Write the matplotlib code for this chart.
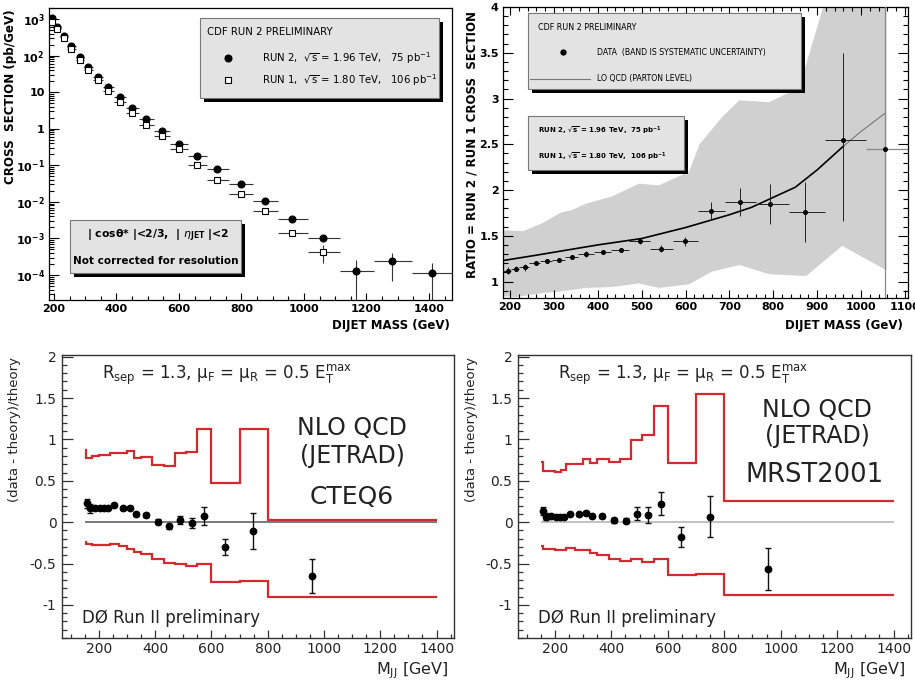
import numpy as np
import matplotlib
matplotlib.use('Agg')
import matplotlib.pyplot as plt
from matplotlib.patches import Rectangle
from matplotlib.lines import Line2D
from matplotlib.ticker import MultipleLocator, LogLocator, NullFormatter

plt.rcParams['font.family'] = ['DejaVu Sans']
plt.rcParams['mathtext.fontset'] = 'dejavusans'

# ---------------- top-left: CDF dijet mass cross section ----------------
cdf_bin_edges = [180, 202, 221, 243, 269, 296, 325, 356, 391, 430, 472, 520, 572,
                 628, 690, 760, 836, 918, 1012, 1114, 1224, 1346, 1480]
run2_mass = [194, 210, 232, 255, 283, 310, 340, 373, 410, 451, 494, 546, 599, 657,
             723, 798, 875, 962, 1062, 1166, 1282, 1410]
run2_xsec = [1070, 600, 345, 180, 92, 49, 26, 14, 7.4, 3.7, 1.9, 0.87, 0.38, 0.18,
             0.08, 0.031, 0.0107, 0.0035, 0.00105, 1.3e-4, 2.4e-4, 1.1e-4]
run2_err_lo = [0, 0, 0, 0, 0, 0, 0, 0, 0, 0, 0, 0, 0, 0, 0, 0, 0, 0.0003, 0.00015,
               1.2e-4, 1.7e-4, 1.0e-4]
run2_err_hi = [0, 0, 0, 0, 0, 0, 0, 0, 0, 0, 0, 0, 0, 0, 0, 0, 0, 0.0003, 0.0002,
               1.3e-4, 1.7e-4, 1.0e-4]
run1_mass = [194, 210, 232, 255, 283, 310, 340, 373, 410, 451, 494, 546, 599, 657,
             723, 798, 875, 962, 1062]
run1_xsec = [850, 530, 300, 150, 76, 40, 21, 11, 5.4, 2.7, 1.27, 0.63, 0.28, 0.10,
             0.04, 0.0165, 0.0056, 0.0014, 4.3e-4]
run1_err_lo = [0, 0, 0, 0, 0, 0, 0, 0, 0, 0, 0, 0, 0, 0, 0, 0, 0.0006, 0.00025, 2.2e-4]
run1_err_hi = [0, 0, 0, 0, 0, 0, 0, 0, 0, 0, 0, 0, 0, 0, 0, 0, 0.0006, 0.00025, 2.5e-4]
tl_xticks = [200, 400, 600, 800, 1000, 1200, 1400]
tl_yticks = [1e-4, 1e-3, 1e-2, 1e-1, 1, 10, 1e2, 1e3]

# ---------------- top-right: ratio Run2/Run1 ----------------
ratio_mass = [195, 214, 234, 259, 284, 311, 341, 373, 411, 452, 496, 543, 598, 657,
              723, 793, 873, 959, 1055]
ratio_val = [1.12, 1.14, 1.155, 1.20, 1.22, 1.24, 1.265, 1.30, 1.32, 1.35, 1.44, 1.36,
             1.44, 1.77, 1.87, 1.85, 1.76, 2.55, 2.45]
ratio_err_lo = [0.04, 0.03, 0.04, 0.02, 0.02, 0.02, 0.02, 0.03, 0.02, 0.02, 0.03, 0.04,
                0.05, 0.10, 0.15, 0.22, 0.33, 0.89, 1.63]
ratio_err_hi = [0.04, 0.03, 0.04, 0.02, 0.02, 0.02, 0.02, 0.03, 0.02, 0.02, 0.03, 0.04,
                0.05, 0.10, 0.15, 0.22, 0.33, 0.95, 1.70]
band_up_x = [185, 230, 275, 314, 341, 373, 433, 494, 539, 608, 632, 684, 723, 791, 859, 920, 1058]
band_up_y = [1.56, 1.55, 1.64, 1.75, 1.78, 1.85, 1.93, 2.07, 2.05, 2.20, 2.50, 2.80, 2.98,
             2.96, 3.12, 4.10, 4.10]
band_lo_x = [185, 214, 275, 314, 373, 433, 494, 539, 608, 661, 723, 791, 875, 957, 1055, 1058]
band_lo_y = [0.84, 0.83, 0.875, 0.89, 0.93, 0.94, 0.98, 0.93, 0.97, 1.11, 1.18, 1.08,
             1.06, 1.39, 1.13, 1.13]
lo_qcd_x = [185, 250, 300, 400, 500, 600, 650, 700, 750, 800, 850, 900, 960, 1000, 1055]
lo_qcd_y = [1.23, 1.28, 1.32, 1.40, 1.47, 1.59, 1.66, 1.73, 1.81, 1.92, 2.03, 2.22, 2.48,
            2.64, 2.84]
tr_xticks = [200, 300, 400, 500, 600, 700, 800, 900, 1000, 1100]
tr_yticks = [1, 1.5, 2, 2.5, 3, 3.5, 4]

# ---------------- bottom: D0 (data - theory)/theory ----------------
d0_mass = [157, 168, 186, 205, 219, 231, 255, 284, 309, 333, 368, 409, 451, 490, 530,
           575, 647, 748, 956]
cteq_val = [0.23, 0.165, 0.177, 0.165, 0.165, 0.165, 0.205, 0.165, 0.177, 0.095, 0.085,
            0.005, -0.05, 0.025, -0.01, 0.075, -0.30, -0.11, -0.65]
cteq_err = [0.055, 0.05, 0.01, 0.01, 0.01, 0.01, 0.01, 0.015, 0.015, 0.015, 0.02, 0.03,
            0.03, 0.05, 0.06, 0.11, 0.10, 0.22, 0.21]
mrst_val = [0.135, 0.065, 0.07, 0.065, 0.065, 0.065, 0.10, 0.095, 0.115, 0.07, 0.075,
            0.025, 0.015, 0.10, 0.085, 0.225, -0.175, 0.065, -0.565]
mrst_err = [0.05, 0.04, 0.01, 0.01, 0.01, 0.01, 0.01, 0.015, 0.015, 0.015, 0.02, 0.03,
            0.03, 0.08, 0.10, 0.14, 0.12, 0.25, 0.25]
band_edges = [150, 156, 175, 200, 220, 240, 270, 300, 325, 350, 390, 430, 470, 510, 550,
              600, 700, 800, 1400]
cteq_upper = [0.87, 0.78, 0.795, 0.81, 0.81, 0.84, 0.83, 0.855, 0.77, 0.79, 0.69, 0.68,
              0.84, 0.845, 1.12, 0.47, 1.13, 0.02]
cteq_lower = [-0.24, -0.265, -0.28, -0.28, -0.28, -0.265, -0.29, -0.32, -0.36, -0.385,
              -0.44, -0.49, -0.50, -0.53, -0.51, -0.72, -0.71, -0.91]
mrst_upper = [0.725, 0.615, 0.62, 0.605, 0.63, 0.70, 0.70, 0.765, 0.71, 0.765, 0.725,
              0.765, 0.99, 1.05, 1.40, 0.72, 1.545, 0.26]
mrst_lower = [-0.29, -0.33, -0.33, -0.335, -0.335, -0.315, -0.335, -0.335, -0.375, -0.40,
              -0.45, -0.465, -0.45, -0.485, -0.45, -0.64, -0.625, -0.875]
bot_xticks = [200, 400, 600, 800, 1000, 1200, 1400]
bot_yticks = [-1, -0.5, 0, 0.5, 1, 1.5, 2]

# ---------------- figure helpers ----------------
W, H = 915, 682
fig = plt.figure(figsize=(W / 100, H / 100), dpi=100)


def add_ax(l, t, r, b):
    return fig.add_axes([l / W, 1 - b / H, (r - l) / W, (b - t) / H])


def fx(x):
    return x / W


def fy(y):
    return 1 - y / H


def text_px(x, y, s, **kw):
    kw.setdefault('va', 'center')
    kw.setdefault('zorder', 20)
    return fig.text(fx(x), fy(y), s, **kw)


def shadow_box(l, t, r, b, off=4, face='#e3e3e3'):
    w = (r - l) / W
    h = (b - t) / H
    fig.add_artist(Rectangle((fx(l + off), fy(b + off)), w, h, transform=fig.transFigure,
                             facecolor='black', edgecolor='none', zorder=15))
    fig.add_artist(Rectangle((fx(l), fy(b)), w, h, transform=fig.transFigure,
                             facecolor=face, edgecolor='#777777', lw=0.8, zorder=16))


def fmt_num(v):
    return '%g' % v


def log_label(v):
    e = int(round(np.log10(v)))
    if e == 0:
        return '1'
    if e == 1:
        return '10'
    return r'$\mathbf{10^{%d}}$' % e


# ================= TOP-LEFT =================
ax1 = add_ax(49, 8, 452, 300)
e = np.array(cdf_bin_edges, dtype=float)
m2 = np.array(run2_mass, dtype=float)
m1 = np.array(run1_mass, dtype=float)
n1 = len(m1)
ax1.errorbar(m2, run2_xsec, xerr=[m2 - e[:-1], e[1:] - m2],
             yerr=[run2_err_lo, run2_err_hi], fmt='o', ms=4.8, mfc='black', mec='black',
             ecolor='#333333', elinewidth=0.8, capsize=0, zorder=3)
ax1.errorbar(m1, run1_xsec, xerr=[m1 - e[:n1], e[1:n1 + 1] - m1],
             yerr=[run1_err_lo, run1_err_hi], fmt='s', ms=4.5, mfc='white', mec='black',
             mew=0.8, ecolor='#333333', elinewidth=0.8, capsize=0, zorder=4)
ax1.set_yscale('log')
ax1.set_xlim(184, 1474)
ax1.set_ylim(2.07e-5, 2000)
ax1.set_xticks(tl_xticks)
ax1.set_xticklabels([fmt_num(v) for v in tl_xticks], fontsize=8, fontweight='bold')
ax1.xaxis.set_minor_locator(MultipleLocator(50))
ax1.set_yticks(tl_yticks)
ax1.set_yticklabels([log_label(v) for v in tl_yticks], fontsize=8, fontweight='bold')
ax1.yaxis.set_minor_locator(LogLocator(base=10, subs=np.arange(2, 10), numticks=30))
ax1.yaxis.set_minor_formatter(NullFormatter())
ax1.tick_params(which='both', direction='in', top=False, right=False, width=0.8)
ax1.tick_params(axis='x', which='major', length=5, pad=3)
ax1.tick_params(axis='x', which='minor', length=3)
ax1.tick_params(axis='y', which='major', length=7, pad=3)
ax1.tick_params(axis='y', which='minor', length=3.5)
for s in ax1.spines.values():
    s.set_linewidth(0.9)

text_px(11, 97, 'CROSS  SECTION (pb/GeV)', rotation=90, ha='center', fontsize=8.6,
        fontweight='bold')
text_px(450, 325, 'DIJET MASS (GeV)', ha='right', fontsize=8.5, fontweight='bold')

shadow_box(200, 18, 439, 98)
text_px(207, 32, 'CDF RUN 2 PRELIMINARY', ha='left', fontsize=7.3)
fig.add_artist(Line2D([fx(228)], [fy(58)], marker='o', ms=4.8, color='black', ls='none',
                      transform=fig.transFigure, zorder=20))
fig.add_artist(Line2D([fx(228)], [fy(80)], marker='s', ms=4.5, mfc='white', mec='black',
                      mew=0.8, ls='none', transform=fig.transFigure, zorder=20))
text_px(262, 58, r'RUN 2,  $\sqrt{\mathrm{s}}$ = 1.96 TeV,   75 pb$^{-1}$', ha='left',
        fontsize=7.3)
text_px(262, 80, r'RUN 1,  $\sqrt{\mathrm{s}}$ = 1.80 TeV,   106 pb$^{-1}$', ha='left',
        fontsize=7.3)

shadow_box(70, 220, 241, 273)
text_px(158, 236, r'| cos$\mathbf{\theta}$* |<2/3,  | $\eta_{\mathbf{JET}}$ |<2',
        ha='center', fontsize=7.8, fontweight='bold')
text_px(156, 261, 'Not corrected for resolution', ha='center', fontsize=7.5,
        fontweight='bold')

# ================= TOP-RIGHT =================
ax2 = add_ax(503, 7, 908, 298)
bux = np.array(band_up_x, dtype=float)
buy = np.array(band_up_y, dtype=float)
blx = np.array(band_lo_x, dtype=float)
bly = np.array(band_lo_y, dtype=float)
ax2.fill(np.concatenate([bux, blx[::-1]]), np.concatenate([buy, bly[::-1]]),
         color='#d0d0d0', lw=0, zorder=1)
k = lo_qcd_x.index(960) + 1
ax2.plot(lo_qcd_x[:k], lo_qcd_y[:k], color='black', lw=1.2, zorder=3)
ax2.plot(lo_qcd_x[k - 1:], lo_qcd_y[k - 1:], color='#777777', lw=0.8, zorder=3)
rm = np.array(ratio_mass, dtype=float)
nr = len(rm)
ax2.errorbar(rm[:-1], ratio_val[:-1], xerr=[rm[:-1] - e[:nr - 1], e[1:nr] - rm[:-1]],
             yerr=[ratio_err_lo[:-1], ratio_err_hi[:-1]], fmt='o', ms=2.6, color='black',
             ecolor='#222222', elinewidth=0.7, capsize=0, zorder=4)
ax2.errorbar(rm[-1:], ratio_val[-1:], xerr=[rm[-1:] - e[nr - 1:nr], e[nr:nr + 1] - rm[-1:]],
             yerr=[ratio_err_lo[-1:], ratio_err_hi[-1:]], fmt='o', ms=2.6, color='black',
             ecolor='#888888', elinewidth=0.9, capsize=0, zorder=4)
ax2.set_xlim(184, 1107)
ax2.set_ylim(0.82, 4.0)
ax2.set_xticks(tr_xticks)
ax2.set_xticklabels([fmt_num(v) for v in tr_xticks], fontsize=8, fontweight='bold')
ax2.xaxis.set_minor_locator(MultipleLocator(20))
ax2.set_yticks(tr_yticks)
ax2.set_yticklabels([fmt_num(v) for v in tr_yticks], fontsize=8, fontweight='bold')
ax2.yaxis.set_minor_locator(MultipleLocator(0.1))
ax2.tick_params(which='both', direction='in', top=True, right=True, width=0.8)
ax2.tick_params(axis='x', which='major', length=5.5, pad=3)
ax2.tick_params(axis='x', which='minor', length=3)
ax2.tick_params(axis='y', which='major', length=7, pad=3)
ax2.tick_params(axis='y', which='minor', length=3.5)
for s in ax2.spines.values():
    s.set_linewidth(0.9)

text_px(472, 145, 'RATIO = RUN 2 / RUN 1 CROSS  SECTION', rotation=90, ha='center',
        fontsize=8.5, fontweight='bold')
text_px(903, 325, 'DIJET MASS (GeV)', ha='right', fontsize=8.5, fontweight='bold')

shadow_box(528, 13, 801, 89)
text_px(538, 27, 'CDF RUN 2 PRELIMINARY', ha='left', fontsize=5.8)
fig.add_artist(Line2D([fx(563)], [fy(52)], marker='o', ms=3.5, color='black', ls='none',
                      transform=fig.transFigure, zorder=20))
text_px(597, 52, 'DATA  (BAND IS SYSTEMATIC UNCERTAINTY)', ha='left', fontsize=5.6)
fig.add_artist(Line2D([fx(530), fx(590)], [fy(79), fy(79)], color='#777777', lw=0.8,
                      transform=fig.transFigure, zorder=20))
text_px(597, 79, 'LO QCD (PARTON LEVEL)', ha='left', fontsize=5.6)

shadow_box(528, 116, 684, 170)
text_px(538, 131, r'RUN 2, $\mathbf{\sqrt{s}}$ = 1.96 TeV,  75 pb$^{\mathbf{-1}}$',
        ha='left', fontsize=5.0, fontweight='bold')
text_px(538, 157, r'RUN 1, $\mathbf{\sqrt{s}}$ = 1.80 TeV,  106 pb$^{\mathbf{-1}}$',
        ha='left', fontsize=5.0, fontweight='bold')


# ================= BOTTOM PANELS =================
def bottom_panel(l, r, vals, errs, upper, lower, zero_color):
    ax = add_ax(l, 355, r, 638)
    ax.stairs(upper, band_edges, baseline=None, color='#d42a2f', lw=1.6, zorder=2)
    ax.stairs(lower, band_edges, baseline=None, color='#d42a2f', lw=1.6, zorder=2)
    ax.hlines(0, band_edges[0], band_edges[-1], color=zero_color, lw=1.1, zorder=1)
    ax.errorbar(d0_mass, vals, yerr=errs, fmt='o', ms=4.6, color='black',
                ecolor='#111111', elinewidth=1.0, capsize=2.5, capthick=1.0, zorder=4)
    ax.set_xlim(69, 1462)
    ax.set_ylim(-1.4, 2.02)
    ax.set_xticks(bot_xticks)
    ax.set_xticklabels([fmt_num(v) for v in bot_xticks], fontsize=10, color='#222222')
    ax.xaxis.set_minor_locator(MultipleLocator(50))
    ax.set_yticks(bot_yticks)
    ax.set_yticklabels([fmt_num(v) for v in bot_yticks], fontsize=10, color='#222222')
    ax.yaxis.set_minor_locator(MultipleLocator(0.1))
    ax.tick_params(which='both', direction='in', top=False, right=False, width=0.9,
                   color='#333333')
    ax.tick_params(axis='x', which='major', length=6, pad=3)
    ax.tick_params(axis='x', which='minor', length=3)
    ax.tick_params(axis='y', which='major', length=8, pad=4)
    ax.tick_params(axis='y', which='minor', length=3.5)
    for s in ax.spines.values():
        s.set_linewidth(1.0)
        s.set_color('#333333')
    return ax


ax3 = bottom_panel(62, 454, cteq_val, cteq_err, cteq_upper, cteq_lower, '#555555')
ax4 = bottom_panel(518, 911, mrst_val, mrst_err, mrst_upper, mrst_lower, '#b0b0b0')

rsep = (r'R$_{\mathrm{sep}}$ = 1.3, μ$_{\mathrm{F}}$ = μ$_{\mathrm{R}}$ = 0.5 '
        r'E$_{\mathrm{T}}^{\mathrm{max}}$')
for x0, y_lab, x_lab_r in [(0, 15, 448), (456, 471, 905)]:
    text_px(x0 + 102, 375, rsep, ha='left', fontsize=12, color='#222222')
    text_px(y_lab, 430, '(data - theory)/theory', rotation=90, ha='center', fontsize=9.5,
            color='#222222')
    text_px(x_lab_r, 681, r'M$_{\mathrm{JJ}}$ [GeV]', ha='right', va='bottom',
            fontsize=11.5, color='#222222')
    text_px(x0 + 82, 618, 'DØ Run II preliminary', ha='left', fontsize=12, color='#222222')

text_px(352, 428, 'NLO QCD', ha='center', fontsize=17, color='#222222')
text_px(352, 456, '(JETRAD)', ha='center', fontsize=17, color='#222222')
text_px(352, 497, 'CTEQ6', ha='center', fontsize=18, color='#222222')
text_px(817, 410, 'NLO QCD', ha='center', fontsize=17, color='#222222')
text_px(817, 436, '(JETRAD)', ha='center', fontsize=17, color='#222222')
text_px(815, 475, 'MRST2001', ha='center', fontsize=18.5, color='#222222')

fig.savefig('out.png', dpi=100)
